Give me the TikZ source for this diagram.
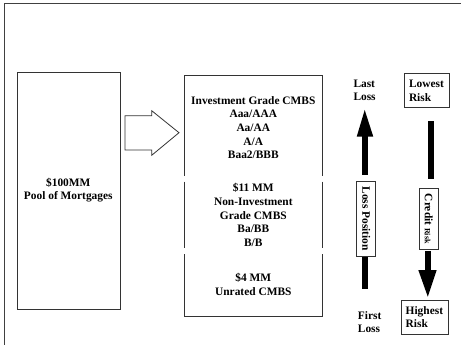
\documentclass[tikz,border=0pt]{standalone}
\usepackage{fontspec}
\setmainfont{Liberation Serif}
\begin{document}
\begin{tikzpicture}[x=1pt,y=-1pt,
  lbl/.style={font=\fontsize{11.4}{13.7}\selectfont\bfseries, inner sep=0pt, align=center},
  lbll/.style={font=\fontsize{11.4}{13.4}\selectfont\bfseries, inner sep=0pt, align=left},
  boxline/.style={draw=black!80, line width=0.9pt},
  bar/.style={fill=black, draw=none}]
\useasboundingbox (0,0) rectangle (461,345);
% frame
\draw[black!75, line width=0.9pt] (4,345) -- (4,3) -- (461,3);
% pool box
\node[boxline, minimum width=103.3pt, minimum height=237.3pt, inner sep=0pt, anchor=north west] (pool) at (16.7,71.7) {};
\node[lbl] (pooltxt) at (68.3,190) {\$100MM\\Pool of Mortgages};
% big hollow arrow
\coordinate (ba) at (125,132.7);
\draw[boxline, line width=0.8pt] (125,115.7) -- (151.7,115.7) -- (151.7,110.7) -- (179,132.7) -- (151.7,155.3) -- (151.7,150) -- (125,150) -- cycle;
% tranche box
\coordinate (tl) at (184.3,75.7);
\coordinate (tr) at (322.3,75.7);
\coordinate (bl) at (184.3,316.7);
\coordinate (br) at (322.3,316.7);
\draw[boxline] (184.3,175.7) -- (tl) -- (tr) -- (322.3,175.7);
\draw[boxline] (184.3,181.7) -- (184.3,248);
\draw[boxline] (322.3,181.7) -- (322.3,248);
\draw[boxline] (184.3,254) -- (bl) -- (br) -- (322.3,254);
\node[lbl] (t1) at (253.3,127.5) {Investment Grade CMBS\\Aaa/AAA\\Aa/AA\\A/A\\Baa2/BBB};
\node[lbl] (t2) at (253.3,215) {\$11 MM\\Non-Investment\\Grade CMBS\\Ba/BB\\B/B};
\node[lbl] (t3) at (253.3,284.3) {\$4 MM\\Unrated CMBS};
% loss position
\node[lbll, anchor=west] (last) at (353.3,90.3) {Last\\Loss};
\node[lbll, anchor=west] (first) at (357.7,322.2) {First\\Loss};
\fill[bar] (361.7,289.3) rectangle (367.7,256.7);
\fill[bar] (361.7,175) rectangle (367.7,134);
\fill[bar] (356.7,136.7) -- (364.7,110) -- (373.3,136.7) -- cycle;
\node[boxline, fill=white, minimum width=19pt, minimum height=74.3pt, inner sep=0pt] (lp) at (366.2,218.8) {};
\node[lbl, rotate=-90] (lptxt) at (366.2,218.8) {Loss Position};
% credit risk
\node[boxline, minimum width=45pt, minimum height=33.4pt, inner sep=0pt, anchor=north west] (lowbox) at (404.3,73.3) {};
\node[lbll, anchor=west] (low) at (408.8,90.8) {Lowest\\Risk};
\fill[bar] (428.3,120.7) rectangle (434,179);
\node[boxline, fill=white, minimum width=19.7pt, minimum height=61pt, inner sep=0pt] (cr) at (428.8,218.8) {};
\node[rotate=-90, inner sep=0pt, font=\bfseries] (crtxt) at (428.8,218.8) {\fontsize{11.4}{13}\selectfont Credit \fontsize{8}{9}\selectfont Risk};
\fill[bar] (425,250.7) rectangle (430.8,272);
\fill[bar] (418.3,270) -- (436.7,270) -- (427.8,296.7) -- cycle;
\node[boxline, minimum width=47.6pt, minimum height=34pt, inner sep=0pt, anchor=north west] (highbox) at (400.7,300) {};
\node[lbll, anchor=west] (high) at (405.5,317) {Highest\\Risk};
\end{tikzpicture}
\end{document}
